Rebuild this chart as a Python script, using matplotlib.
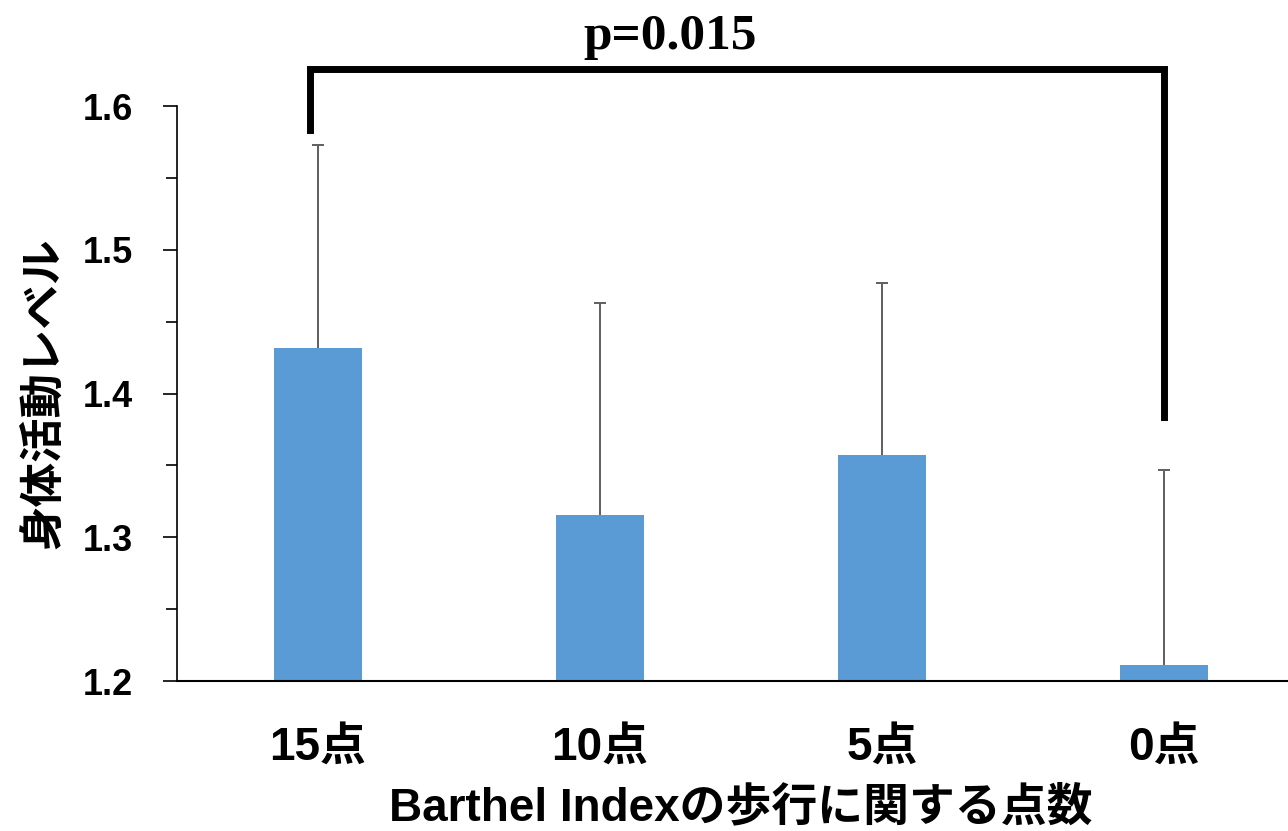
import matplotlib.pyplot as plt
import numpy as np

# data
categories = ['15点', '10点', '5点', '0点']
means = [1.432, 1.3155, 1.357, 1.211]
sd_upper = [0.141, 0.1475, 0.120, 0.136]
p_label = 'p=0.015'

plt.rcParams['font.family'] = ['Liberation Sans', 'Noto Sans CJK JP', 'DejaVu Sans']
plt.rcParams['font.weight'] = 'bold'

fig = plt.figure(figsize=(12.88, 8.31), dpi=100)
ax = fig.add_axes([0.1374, 0.1805, 0.8758, 0.6919])

x = np.arange(len(categories))
tops = np.array(means) + np.array(sd_upper)
ax.bar(x, np.array(means) - 1.2, bottom=1.2, width=0.31, color='#5B9BD5')
# upper-only error bars
ax.vlines(x, means, tops, color='#5f5f5f', lw=1.4)
ax.hlines(tops, x - 0.022, x + 0.022, color='#5f5f5f', lw=1.4)

ax.set_xlim(-0.5, 3.5)
ax.set_ylim(1.2, 1.6)
ax.set_yticks([1.2, 1.3, 1.4, 1.5, 1.6])
ax.set_yticks(np.arange(1.25, 1.6, 0.1), minor=True)
ax.set_yticklabels(['1.2', '1.3', '1.4', '1.5', '1.6'], fontsize=26, fontweight='bold')
ax.tick_params(axis='y', which='major', length=10, width=1.2, pad=22)
ax.tick_params(axis='y', which='minor', length=8, width=1.2)
ax.set_xticks(x)
ax.set_xticklabels(categories, fontsize=33, fontweight='bold')
ax.tick_params(axis='x', length=0, pad=32)

for s in ['top', 'right']:
    ax.spines[s].set_visible(False)
ax.spines['left'].set_linewidth(1.2)
ax.spines['bottom'].set_linewidth(1.5)

ax.set_xlabel('Barthel Indexの歩行に関する点数', fontsize=33, fontweight='bold', labelpad=12)
ax.set_ylabel('身体活動レベル', fontsize=32, fontweight='bold', labelpad=12)

# significance bracket
ax.plot([-0.03, -0.03, 3.0, 3.0], [1.5833, 1.6257, 1.6257, 1.3837],
        color='black', lw=5, clip_on=False, solid_joinstyle='miter')
ax.text(1.25, 1.648, p_label, ha='center', va='center', fontsize=37,
        fontweight='bold', family='Liberation Serif')

fig.savefig('out.png', dpi=100)
